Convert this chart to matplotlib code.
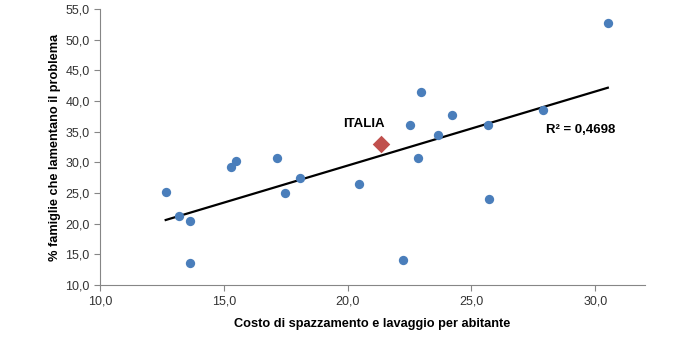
import numpy as np
import matplotlib
matplotlib.use("Agg")
import matplotlib.pyplot as plt
from matplotlib.ticker import FuncFormatter

plt.rcParams['font.family'] = ['Liberation Sans', 'DejaVu Sans']

# costo di spazzamento e lavaggio per abitante vs % famiglie
costo = [12.65, 13.18, 13.62, 13.65, 15.27, 15.47, 17.15, 17.46, 18.07,
         20.46, 22.23, 22.51, 22.85, 22.98, 23.64, 24.2, 25.69, 25.7, 27.9, 30.51]
famiglie = [25.1, 21.25, 20.4, 13.5, 29.25, 30.3, 30.77, 25.06, 27.5,
            26.5, 14.08, 36.15, 30.77, 41.5, 34.5, 37.7, 36.15, 24.1, 38.5, 52.7]
italia_x, italia_y = 21.33, 33.0
r2_text = "R² = 0,4698"

fig = plt.figure(figsize=(7, 3.38), dpi=100)
ax = fig.add_axes([0.143, 0.157, 0.778, 0.816])

ax.scatter(costo, famiglie, s=45, color='#4A7EBB', zorder=3, linewidths=0)
ax.scatter([italia_x], [italia_y], s=80, marker='D', color='#C0504D', zorder=4, linewidths=0)

# linear trend
coef = np.polyfit(costo, famiglie, 1)
xs = np.array([min(costo), max(costo)])
ax.plot(xs, np.polyval(coef, xs), color='black', lw=1.6, zorder=2)

ax.text(italia_x + 0.15, italia_y + 3.3, "ITALIA", fontsize=9.5, fontweight='bold',
        ha='right', va='center')
ax.text(28.0, 35.2, r2_text, fontsize=9.5, fontweight='bold', ha='left', va='center')

ax.set_xlim(10, 32)
ax.set_ylim(10, 55)
ax.set_xticks([10, 15, 20, 25, 30])
ax.set_yticks(np.arange(10, 56, 5))
fmt = FuncFormatter(lambda v, p: f"{v:.1f}".replace('.', ','))
ax.xaxis.set_major_formatter(fmt)
ax.yaxis.set_major_formatter(fmt)

for s in ['top', 'right']:
    ax.spines[s].set_visible(False)
for s in ['left', 'bottom']:
    ax.spines[s].set_color('#868686')
ax.tick_params(colors='#868686', labelcolor='#333333', labelsize=9, length=4)

ax.set_xlabel("Costo di spazzamento e lavaggio per abitante", fontsize=9.2,
              fontweight='bold', labelpad=8)
ax.set_ylabel("% famiglie che lamentano il problema", fontsize=9.2,
              fontweight='bold', labelpad=3)

fig.savefig("out.png", dpi=100)
